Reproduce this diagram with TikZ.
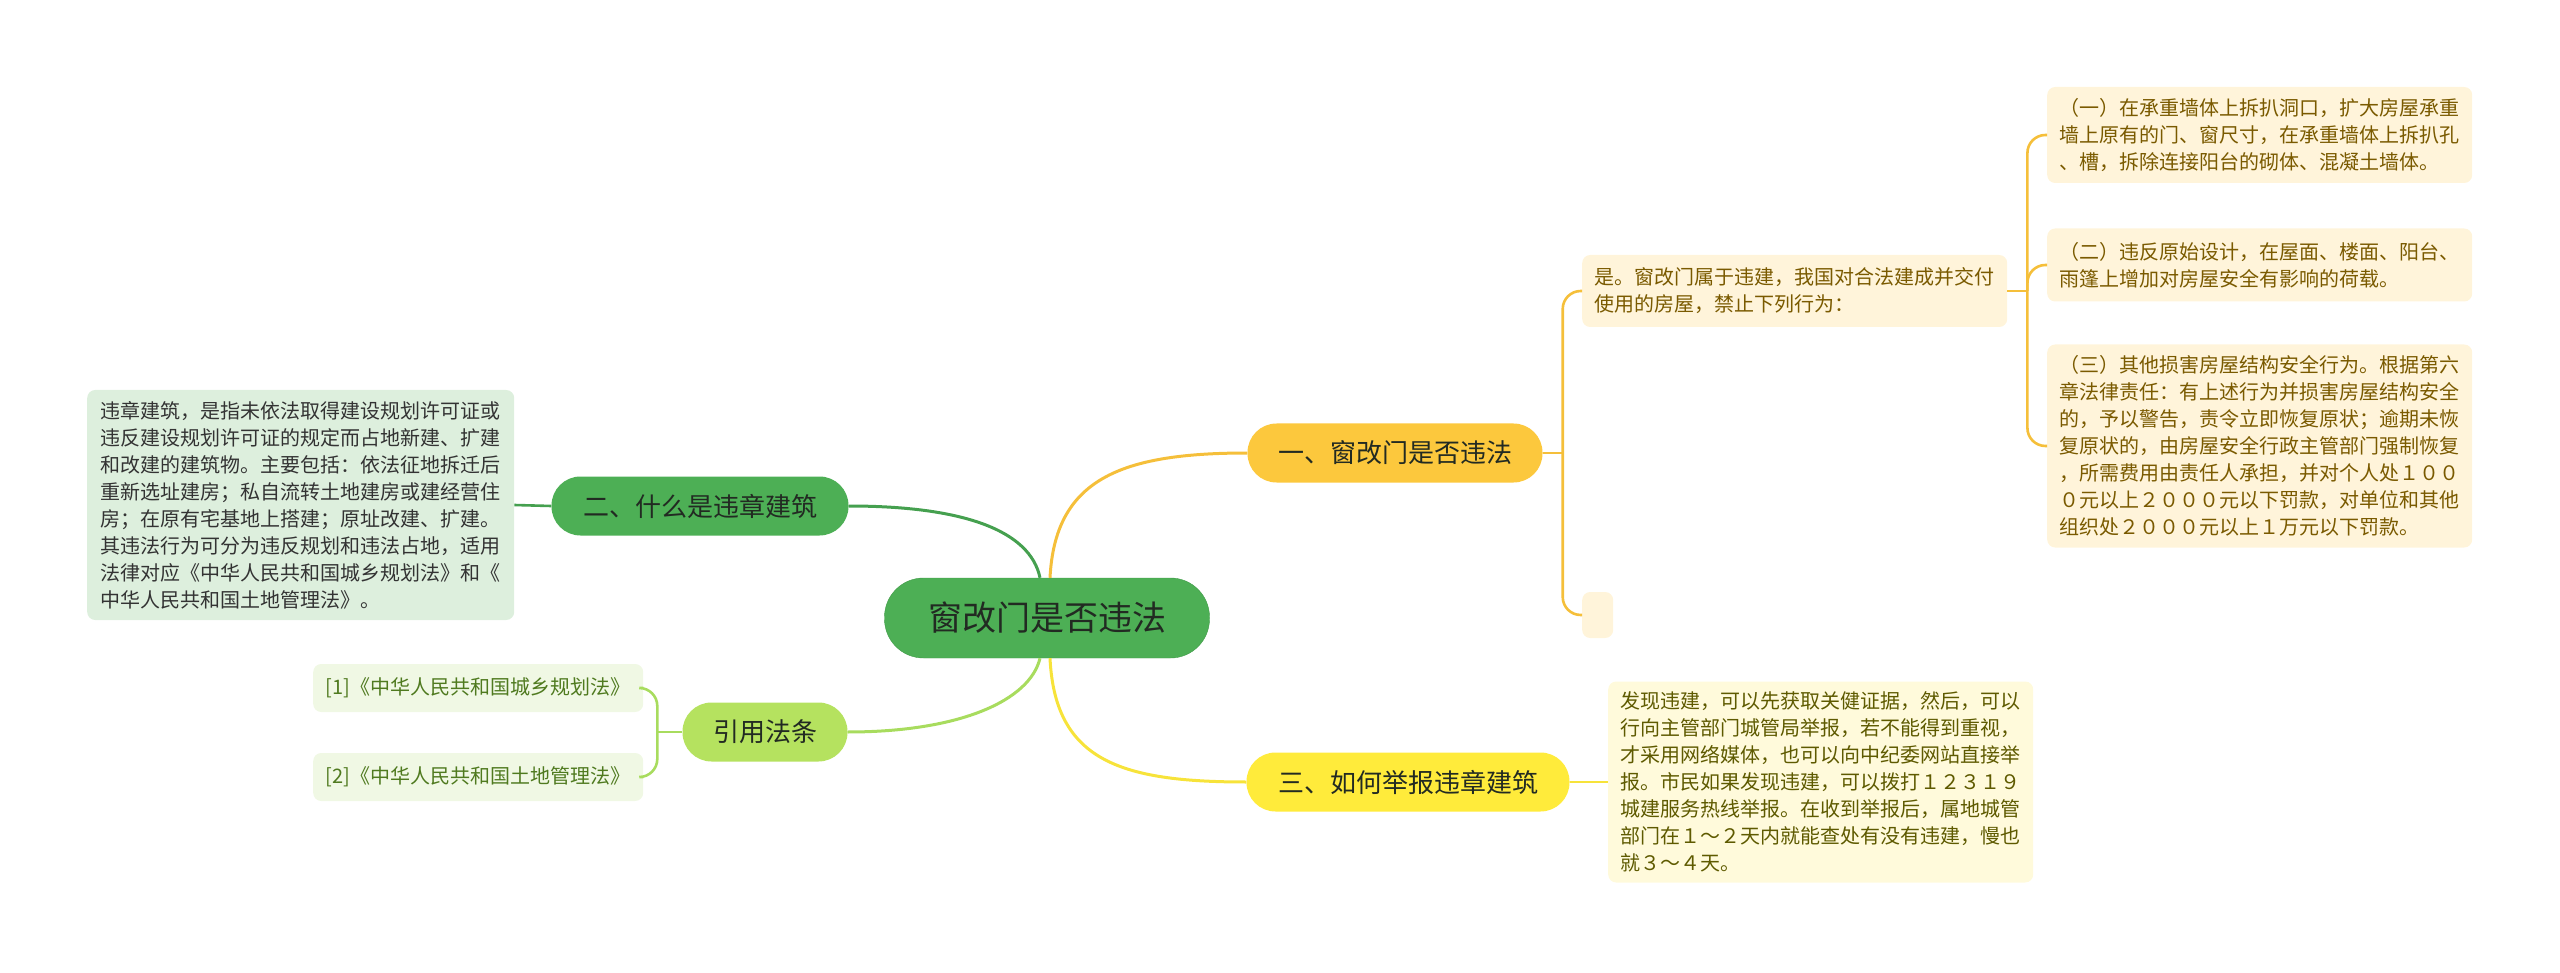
\documentclass[tikz,border=0pt]{standalone}
\usepackage{fontspec}
\setmainfont{Noto Sans CJK SC}
\usepackage{xcolor}
\usetikzlibrary{arrows.meta,positioning}

\definecolor{rootfill}{HTML}{4DAF55}
\definecolor{rootedge}{HTML}{3F9A47}
\definecolor{darktext}{HTML}{222A22}
\definecolor{deffill}{HTML}{DDEFDD}
\definecolor{reffill}{HTML}{B5E25F}
\definecolor{refleaf}{HTML}{F0F8E4}
\definecolor{reftext}{HTML}{4F7A1F}
\definecolor{qonefill}{HTML}{FCC83D}
\definecolor{qthreefill}{HTML}{FFEB3B}
\definecolor{ansfill}{HTML}{FFF4DA}
\definecolor{anstext}{HTML}{7A5A00}
\definecolor{repfill}{HTML}{FFFADB}
\definecolor{reptext}{HTML}{5E5A00}
\definecolor{lgreen}{HTML}{45A04F}
\definecolor{llime}{HTML}{A8DC5E}
\definecolor{lorange}{HTML}{F5BF3A}
\definecolor{lyellow}{HTML}{F7E33A}

\begin{document}
\begin{tikzpicture}[
    x=1pt, y=-1pt,
    root/.style={rectangle, draw=rootedge, fill=rootfill, rounded corners=39pt, minimum width=325pt, minimum height=80pt, inner sep=0pt, text=darktext, font=\fontsize{34}{40}\selectfont},
    topic/.style={rectangle, rounded corners=29pt, minimum height=59pt, inner sep=0pt, text=darktext, font=\fontsize{26}{30}\selectfont},
    leaf/.style={rectangle, rounded corners=8pt, anchor=west, align=left, inner xsep=10pt, inner ysep=6pt, font=\fontsize{20}{27}\selectfont},
    link/.style={line width=3pt},
    branch/.style={line width=2.6pt, rounded corners=18pt}
]
\useasboundingbox (0,0) rectangle (2560,973);

% Central topic
\node[root] (root) at (1047,618) {窗改门是否违法};

% Main branches
\node[topic, fill=qonefill, minimum width=295pt] (q1) at (1395,453) {一、窗改门是否违法};
\node[topic, fill=rootfill, minimum width=297pt] (q2) at (700,506) {二、什么是违章建筑};
\node[topic, fill=qthreefill, minimum width=323pt] (q3) at (1408,782) {三、如何举报违章建筑};
\node[topic, fill=reffill, minimum width=165pt] (refs) at (765,732) {引用法条};

% Leaves of branch one
\node[leaf, fill=ansfill, text=anstext, minimum width=425pt, minimum height=72pt] (ans) at (1582,291) {是。窗改门属于违建，我国对合法建成并交付\\使用的房屋，禁止下列行为：};
\node[leaf, fill=ansfill, minimum width=31pt, minimum height=46pt, inner sep=0pt] (blank) at (1582,615) {};
\node[leaf, fill=ansfill, text=anstext, minimum width=425pt, minimum height=96pt] (act1) at (2047,135) {（一）在承重墙体上拆扒洞口，扩大房屋承重\\墙上原有的门、窗尺寸，在承重墙体上拆扒孔\\、槽，拆除连接阳台的砌体、混凝土墙体。};
\node[leaf, fill=ansfill, text=anstext, minimum width=425pt, minimum height=73pt] (act2) at (2047,265) {（二）违反原始设计，在屋面、楼面、阳台、\\雨篷上增加对房屋安全有影响的荷载。};
\node[leaf, fill=ansfill, text=anstext, minimum width=425pt, minimum height=203pt] (act3) at (2047,446) {（三）其他损害房屋结构安全行为。根据第六\\章法律责任：有上述行为并损害房屋结构安全\\的，予以警告，责令立即恢复原状；逾期未恢\\复原状的，由房屋安全行政主管部门强制恢复\\，所需费用由责任人承担，并对个人处１００\\０元以上２０００元以下罚款，对单位和其他\\组织处２０００元以上１万元以下罚款。};

% Leaf of branch two
\node[leaf, fill=deffill, text=black!80, minimum width=427pt, minimum height=230pt] (def) at (87,505) {违章建筑，是指未依法取得建设规划许可证或\\违反建设规划许可证的规定而占地新建、扩建\\和改建的建筑物。主要包括：依法征地拆迁后\\重新选址建房；私自流转土地建房或建经营住\\房；在原有宅基地上搭建；原址改建、扩建。\\其违法行为可分为违反规划和违法占地，适用\\法律对应《中华人民共和国城乡规划法》和《\\中华人民共和国土地管理法》。};

% Leaf of branch three
\node[leaf, fill=repfill, text=reptext, minimum width=425pt, minimum height=201pt] (report) at (1608,782) {发现违建，可以先获取关健证据，然后，可以\\行向主管部门城管局举报，若不能得到重视，\\才采用网络媒体，也可以向中纪委网站直接举\\报。市民如果发现违建，可以拨打１２３１９\\城建服务热线举报。在收到举报后，属地城管\\部门在１～２天内就能查处有没有违建，慢也\\就３～４天。};

% Cited laws
\node[leaf, fill=refleaf, text=reftext, minimum width=330pt, minimum height=48pt] (ref1) at (313,688) {[1]《中华人民共和国城乡规划法》};
\node[leaf, fill=refleaf, text=reftext, minimum width=330pt, minimum height=48pt] (ref2) at (313,777) {[2]《中华人民共和国土地管理法》};

% Links from the centre
\draw[link, draw=lgreen] ([xshift=-7pt]root.north) .. controls +(-10,-48) and +(113,0) .. (q2.east);
\draw[link, draw=lorange] ([xshift=3pt]root.north) .. controls +(5,-98) and +(-128,0) .. (q1.west);
\draw[link, draw=llime] ([xshift=-7pt]root.south) .. controls +(-10,42) and +(113,0) .. (refs.east);
\draw[link, draw=lyellow] ([xshift=3pt]root.south) .. controls +(5,102) and +(-127,0) .. (q3.west);

% Branch one
\draw[branch, draw=lorange] (q1.east) -- ++(20,0) coordinate (q1j);
\draw[branch, draw=lorange] (q1j) |- (ans.west);
\draw[branch, draw=lorange] (q1j) |- (blank.west);
\draw[branch, draw=lorange] (ans.east) -- ++(20,0) coordinate (ansj);
\foreach \n in {act1,act2,act3}
  \draw[branch, draw=lorange] (ansj) |- (\n.west);

% Branch two and three
\draw[branch, draw=lgreen] (q2.west) -- (def.east);
\draw[branch, draw=lyellow] (q3.east) -- (report.west);

% Cited laws
\draw[branch, draw=llime] (refs.west) -- ++(-25,0) coordinate (refj);
\draw[branch, draw=llime] (refj) |- (ref1.east);
\draw[branch, draw=llime] (refj) |- (ref2.east);

\end{tikzpicture}
\end{document}
